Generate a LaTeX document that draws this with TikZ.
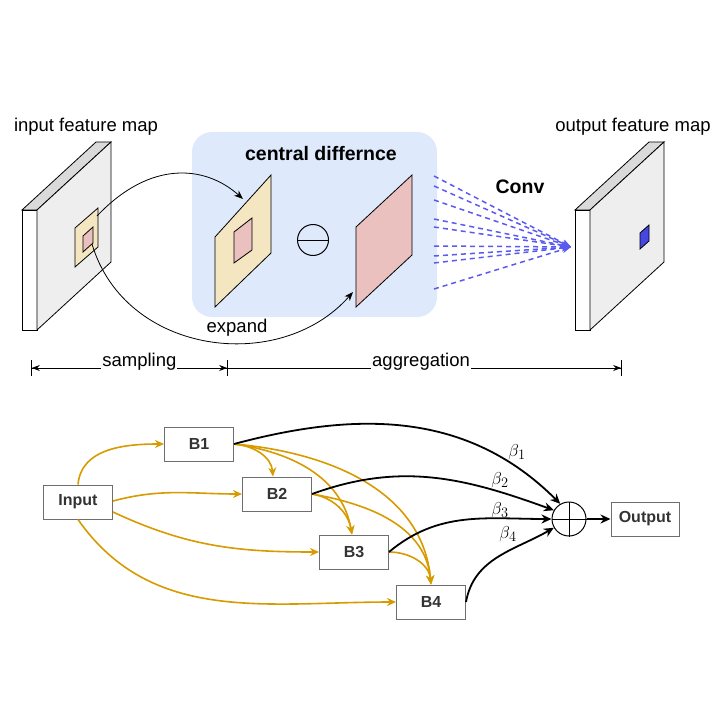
\documentclass[tikz,border=0pt]{standalone}
\usepackage{fontspec}
\setmainfont{Liberation Sans}
\usetikzlibrary{arrows.meta, positioning, calc}

\definecolor{boxblue}{RGB}{222,233,251}
\definecolor{patchyellow}{RGB}{243,230,192}
\definecolor{patchpink}{RGB}{234,193,191}
\definecolor{slabside}{RGB}{238,238,238}
\definecolor{slabtop}{RGB}{218,218,218}
\definecolor{convblue}{RGB}{90,90,240}
\definecolor{outpatch}{RGB}{70,70,225}
\definecolor{edgegold}{RGB}{215,155,0}
\definecolor{boxline}{RGB}{110,110,110}

\tikzset{
  lbl/.style={font=\fontsize{18.5}{20}\selectfont},
  bold lbl/.style={font=\fontsize{19.5}{21}\selectfont\bfseries},
  blk/.style={draw=boxline, fill=white, line width=1pt, minimum width=69pt,
    minimum height=34pt, text=black!80, font=\fontsize{16}{18}\selectfont\bfseries},
  gold/.style={draw=edgegold, line width=1.6pt, -{Stealth[length=9pt, width=8pt]}},
  wgt/.style={black, line width=1.8pt, -{Stealth[length=10pt, width=9pt]}},
  beta/.style={font=\fontsize{19}{21}\selectfont},
  conv/.style={convblue, line width=1.5pt, dash pattern=on 5pt off 4pt,
    -{Stealth[length=9pt, width=7pt]}},
  face/.style={draw=black, line width=0.8pt},
}

\begin{document}
\begin{tikzpicture}[x=1pt, y=-1pt, >=Stealth]
  \useasboundingbox (0,0) rectangle (719,719);

  % Feature maps (input and output slabs)
  \foreach \sx in {0,553} {
    \draw[face, fill=white] (\sx+22,210) rectangle (\sx+37,330);
    \draw[face, fill=slabtop] (\sx+22,210) -- (\sx+96,142) -- (\sx+111,142) -- (\sx+37,210) -- cycle;
    \draw[face, fill=slabside] (\sx+37,210) -- (\sx+111,142) -- (\sx+111,262) -- (\sx+37,330) -- cycle;
  }
  \node[lbl] (inlbl) at (86,127) {input feature map};
  \node[lbl] (outlbl) at (633,127) {output feature map};

  % Sampled patch on the input
  \draw[face, fill=patchyellow] (75,228) -- (98,208) -- (98,247) -- (75,267) -- cycle;
  \draw[face, fill=patchpink] (83,236) -- (93,227) -- (93,243) -- (83,252) -- cycle;
  \coordinate (src1) at (97,216);
  \coordinate (src2) at (92,244);

  % Output pixel
  \draw[face, fill=outpatch] (640,233) -- (649,225) -- (649,241) -- (640,249) -- cycle;

  % Central difference block
  \node[fill=boxblue, rounded corners=20pt, minimum width=245pt, minimum height=185pt] (cd) at (314.5,224.5) {};
  \node[bold lbl] (cdtitle) at (321,154) {central differnce};
  \draw[face, fill=patchyellow] (215,237) -- (271,175) -- (271,253) -- (215,307) -- cycle;
  \draw[face, fill=patchpink] (234,232) -- (252,218) -- (252,250) -- (234,263) -- cycle;
  \node[draw, circle, line width=1pt, minimum size=31pt, inner sep=0pt] (minus) at (313,240) {};
  \draw[line width=1pt] (minus.west) -- (minus.east);
  \draw[face, fill=patchpink] (356,227) -- (412,175) -- (412,255) -- (356,307) -- cycle;
  \coordinate (dst1) at (243,199);
  \coordinate (dst2) at (353,292);

  % Sampling arrows
  \draw[-{Stealth[length=9pt, width=7pt]}, line width=0.8pt] (src1) .. controls (150,160) and (205,165) .. (dst1);
  \draw[-{Stealth[length=9pt, width=7pt]}, line width=0.8pt] (src2) .. controls (125,355) and (280,375) .. (dst2);
  \node[lbl] (explbl) at (237,328) {expand};

  % Convolution
  \coordinate (tip) at (571,247);
  \foreach \y in {176,186,200,219,227,246,256,263,289}
    \draw[conv] (434,\y) -- (tip);
  \node[bold lbl] (convlbl) at (520,187) {Conv};

  % Stages
  \draw[{Bar[width=16pt]Stealth[length=8pt, width=6pt]}-{Stealth[length=8pt, width=6pt]Bar[width=16pt]}, line width=0.8pt]
    (31,368) -- (228,368) node[lbl, fill=white, inner sep=1pt, pos=0.55, yshift=6pt] (smp) {sampling};
  \draw[-{Stealth[length=8pt, width=6pt]Bar[width=16pt]}, line width=0.8pt]
    (228,368) -- (622,368) node[lbl, fill=white, inner sep=1pt, pos=0.49, yshift=6pt] (agg) {aggregation};

  % Dense blocks
  \node[blk] (inp) at (78,502) {Input};
  \node[blk] (b1) at (199,444) {B1};
  \node[blk] (b2) at (277,494) {B2};
  \node[blk] (b3) at (354,552) {B3};
  \node[blk] (b4) at (431,602) {B4};
  \node[draw, circle, line width=1pt, minimum size=34pt, inner sep=0pt] (sum) at (569,519) {};
  \draw[line width=1pt] (sum.north) -- (sum.south) (sum.west) -- (sum.east);
  \node[blk, minimum width=68pt] (out) at (645,519) {Output};

  % Dense connections
  \draw[gold] (inp.north) to[out=85, in=180] (b1.west);
  \draw[gold] ($(inp.east)+(0,-1)$) to[out=15, in=180] (b2.west);
  \draw[gold] ($(inp.east)+(0,10)$) to[out=-25, in=180] (b3.west);
  \draw[gold] (inp.south) to[out=-55, in=180] (b4.west);
  \draw[gold] (b1.east) to[out=-5, in=95] ($(b2.north)+(-4,0)$);
  \draw[gold] (b1.east) to[out=-8, in=100] ($(b3.north)+(-2,0)$);
  \draw[gold] (b1.east) to[out=-5, in=95] (b4.north);
  \draw[gold] (b2.east) to[out=-10, in=100] ($(b3.north)+(-2,0)$);
  \draw[gold] (b2.east) to[out=-10, in=95] (b4.north);
  \draw[gold] (b3.east) to[out=0, in=95] (b4.north);

  % Weighted aggregation
  \draw[wgt] (b1.east) to[out=15, in=135] (sum.120);
  \draw[wgt] (b2.east) to[out=20, in=160] (sum.150);
  \draw[wgt] (b3.east) to[out=40, in=180] (sum.west);
  \draw[wgt] (b4.east) to[out=80, in=210] (sum.210);
  \draw[wgt] (sum.east) -- (out.west);
  \node[beta] (w1) at (517,452) {$\beta_1$};
  \node[beta] (w2) at (500,480) {$\beta_2$};
  \node[beta] (w3) at (500,510) {$\beta_3$};
  \node[beta] (w4) at (508,534) {$\beta_4$};
\end{tikzpicture}
\end{document}
